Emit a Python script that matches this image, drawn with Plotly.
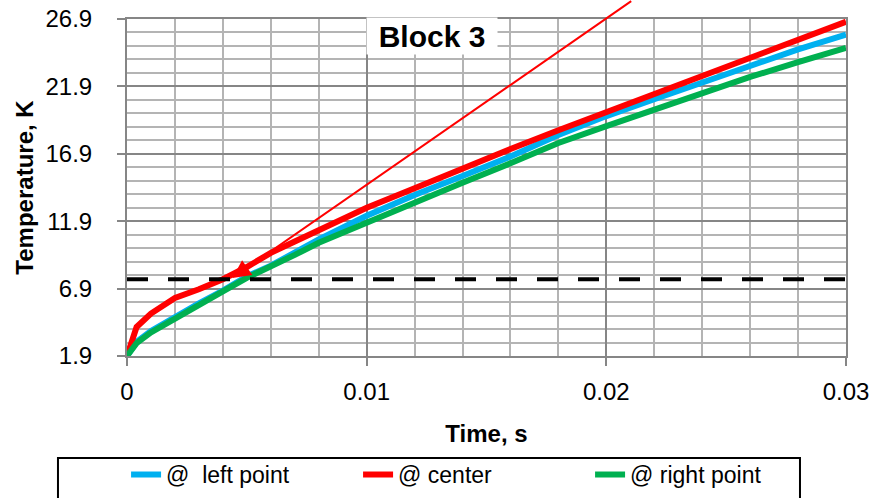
import plotly.graph_objects as go

# ---- data ----
time_s = [0, 0.0004, 0.001, 0.002, 0.003, 0.004, 0.005, 0.006, 0.007, 0.008,
          0.010, 0.012, 0.014, 0.016, 0.018, 0.020, 0.022, 0.024, 0.026, 0.028, 0.030]
left_point = [1.9, 2.95, 3.75, 4.8, 5.8, 6.75, 7.8, 8.6, 9.6, 10.55,
              12.3, 13.85, 15.25, 16.7, 18.3, 19.7, 20.95, 22.2, 23.5, 24.65, 25.75]
center = [1.9, 4.05, 5.05, 6.2, 6.85, 7.6, 8.5, 9.55, 10.4, 11.2,
          12.9, 14.35, 15.85, 17.25, 18.65, 20.0, 21.35, 22.75, 24.1, 25.4, 26.7]
right_point = [1.9, 2.85, 3.65, 4.7, 5.75, 6.7, 7.7, 8.5, 9.4, 10.3,
               11.8, 13.35, 14.75, 16.2, 17.7, 18.95, 20.2, 21.4, 22.6, 23.7, 24.75]

series_names = ["@\u00a0 left point", "@ center", "@ right point"]
series_colors = ["#00B0F0", "#FF0000", "#00B050"]

threshold = 7.6             # dashed horizontal level
arrow_tip = [0.0044, 7.69]  # tangent arrow tip (time, temperature)
arrow_tail = [0.0211, 28.3] # tangent arrow tail

x_ticks = [0, 0.01, 0.02, 0.03]
x_ticktext = ["0", "0.01", "0.02", "0.03"]
y_ticks = [1.9, 6.9, 11.9, 16.9, 21.9, 26.9]
y_ticktext = ["1.9", "6.9", "11.9", "16.9", "21.9", "26.9"]

FONT = "Liberation Sans, Arial, sans-serif"
MAJOR = "#868686"
MINOR = "#b4b4b4"

fig = go.Figure()
for name, ys, col in zip(series_names, [left_point, center, right_point], series_colors):
    fig.add_trace(go.Scatter(x=time_s, y=ys, mode="lines", name=name,
                             line=dict(color=col, width=6)))

fig.add_shape(type="line", xref="x", yref="y",
              x0=x_ticks[0], x1=x_ticks[-1], y0=threshold, y1=threshold,
              line=dict(color="black", width=4, dash="21px,20px"))

fig.add_annotation(x=arrow_tip[0], y=arrow_tip[1], ax=arrow_tail[0], ay=arrow_tail[1],
                   xref="x", yref="y", axref="x", ayref="y", text="",
                   showarrow=True, arrowhead=2, arrowsize=1.8, arrowwidth=2,
                   arrowcolor="#FF0000")

fig.add_annotation(xref="paper", yref="paper", x=0.4242, y=0.951,
                   xanchor="center", yanchor="middle",
                   text="<b>Block 3</b>", showarrow=False,
                   font=dict(family=FONT, size=30, color="black"),
                   bgcolor="white", width=128, height=34)

# legend frame (bottom edge runs off the picture, as in the reference)
fig.add_shape(type="rect", xref="paper", yref="paper",
              x0=-0.096, x1=0.936, y0=-0.3027, y1=-0.46,
              line=dict(color="black", width=2), fillcolor="rgba(0,0,0,0)", layer="above")

axis_common = dict(showgrid=True, gridcolor=MAJOR, gridwidth=2,
                   showline=True, linecolor=MAJOR, linewidth=2, mirror=True,
                   ticks="outside", ticklen=8, tickwidth=2, tickcolor=MAJOR,
                   zeroline=False, ticklabeloverflow="allow",
                   tickfont=dict(family=FONT, size=24, color="black"))

fig.update_xaxes(range=[0, 0.03], tickvals=x_ticks, ticktext=x_ticktext,
                 minor=dict(tick0=0, dtick=0.002, showgrid=True, gridcolor=MINOR, gridwidth=2),
                 ticklabelstandoff=5,
                 title=dict(text="<b>Time, s</b>", font=dict(family=FONT, size=24, color="black"),
                            standoff=21),
                 **axis_common)
fig.update_yaxes(range=[1.9, 26.9], tickvals=y_ticks, ticktext=y_ticktext,
                 minor=dict(tick0=1.9, dtick=1, showgrid=True, gridcolor=MINOR, gridwidth=2),
                 ticklabelstandoff=20,
                 title=dict(text="<b>Temperature, K</b>", font=dict(family=FONT, size=24, color="black"),
                            standoff=5),
                 **axis_common)

fig.update_layout(
    width=875, height=498,
    margin=dict(l=127, r=29, t=19, b=142, autoexpand=False),
    paper_bgcolor="white", plot_bgcolor="white",
    font=dict(family=FONT, color="black"),
    legend=dict(orientation="h", x=-0.0013, xanchor="left", y=-0.288, yanchor="top",
                borderwidth=0, bgcolor="rgba(0,0,0,0)",
                font=dict(family=FONT, size=23, color="black"),
                entrywidth=187, entrywidthmode="pixels", traceorder="normal"),
)

fig.write_html("out.html", config={"displayModeBar": False},
               post_script="document.body.style.margin='0px';document.body.style.overflow='hidden';")
